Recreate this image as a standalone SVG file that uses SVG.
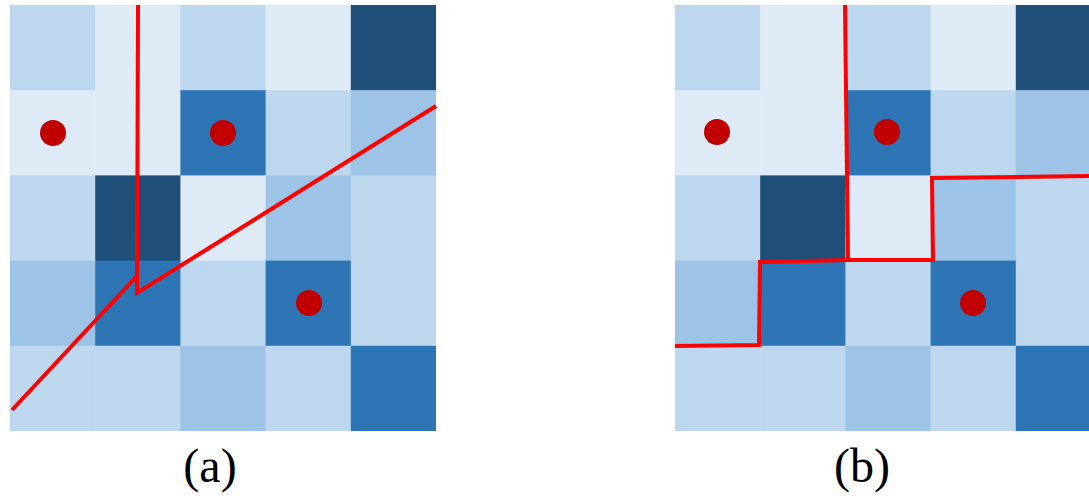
<svg xmlns="http://www.w3.org/2000/svg" width="1089" height="498" viewBox="0 0 1089 498">
<style>
.c0{fill:#deebf7}.c1{fill:#bdd7ee}.c2{fill:#9dc3e6}.c3{fill:#2e75b6}.c4{fill:#1f4e79}
.dot{fill:#c00000}
.cut{fill:none;stroke:#ff0000;stroke-width:4;stroke-linejoin:miter}
.lbl{font-family:"Liberation Serif",serif;font-size:48px;fill:#000;text-anchor:middle}
</style>
<defs>
<g id="grid">
<rect class="c1" x="0" y="0" width="85.8" height="85.8"/>
<rect class="c0" x="85.2" y="0" width="85.8" height="85.8"/>
<rect class="c1" x="170.4" y="0" width="85.8" height="85.8"/>
<rect class="c0" x="255.6" y="0" width="85.8" height="85.8"/>
<rect class="c4" x="340.8" y="0" width="85.2" height="85.8"/>
<rect class="c0" x="0" y="85.2" width="85.8" height="85.8"/>
<rect class="c0" x="85.2" y="85.2" width="85.8" height="85.8"/>
<rect class="c3" x="170.4" y="85.2" width="85.8" height="85.8"/>
<rect class="c1" x="255.6" y="85.2" width="85.8" height="85.8"/>
<rect class="c2" x="340.8" y="85.2" width="85.2" height="85.8"/>
<rect class="c1" x="0" y="170.4" width="85.8" height="85.8"/>
<rect class="c4" x="85.2" y="170.4" width="85.8" height="85.8"/>
<rect class="c0" x="170.4" y="170.4" width="85.8" height="85.8"/>
<rect class="c2" x="255.6" y="170.4" width="85.8" height="85.8"/>
<rect class="c1" x="340.8" y="170.4" width="85.2" height="85.8"/>
<rect class="c2" x="0" y="255.6" width="85.8" height="85.8"/>
<rect class="c3" x="85.2" y="255.6" width="85.8" height="85.8"/>
<rect class="c1" x="170.4" y="255.6" width="85.8" height="85.8"/>
<rect class="c3" x="255.6" y="255.6" width="85.8" height="85.8"/>
<rect class="c1" x="340.8" y="255.6" width="85.2" height="85.8"/>
<rect class="c1" x="0" y="340.8" width="85.8" height="85.2"/>
<rect class="c1" x="85.2" y="340.8" width="85.8" height="85.2"/>
<rect class="c2" x="170.4" y="340.8" width="85.8" height="85.2"/>
<rect class="c1" x="255.6" y="340.8" width="85.8" height="85.2"/>
<rect class="c3" x="340.8" y="340.8" width="85.2" height="85.2"/>
</g>
</defs>
<g id="panel-a">
<use href="#grid" x="10" y="5"/>
<circle class="dot" cx="53" cy="133" r="13"/>
<circle class="dot" cx="223" cy="133" r="13"/>
<circle class="dot" cx="309" cy="303" r="13"/>
<text class="lbl" x="210" y="482">(a)</text>
</g>
<g id="panel-b">
<use href="#grid" x="675" y="5"/>
<circle class="dot" cx="717" cy="132" r="13"/>
<circle class="dot" cx="887" cy="132" r="13"/>
<circle class="dot" cx="973" cy="303" r="13"/>
<text class="lbl" x="862" y="482">(b)</text>
</g>
<g id="connectors">
<path class="cut" d="M138,5 L137,293 L436,106"/>
<path class="cut" d="M12,410 L137,276"/>
<path class="cut" d="M845,5 L848,260"/>
<path class="cut" d="M675,346 L759,345 L760,262 L848,260 L933,260 L932,178 L1089,176"/>
</g>
</svg>
